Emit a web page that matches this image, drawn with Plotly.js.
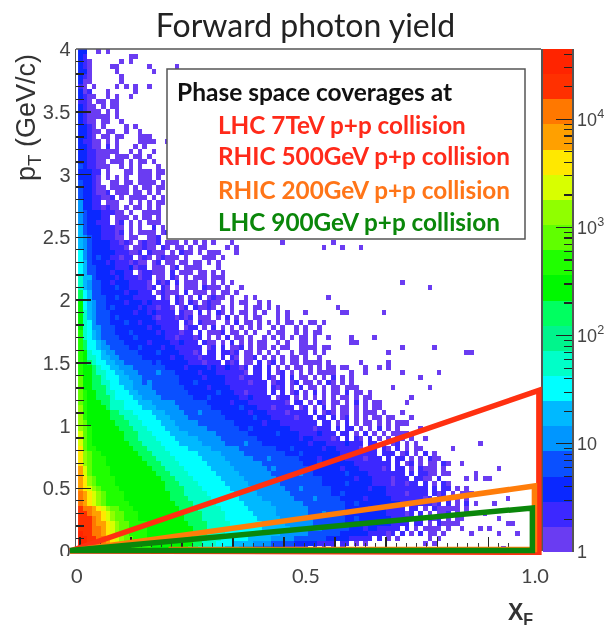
<!DOCTYPE html>
<html><head><meta charset="utf-8">
<script src="https://cdn.plot.ly/plotly-3.0.1.min.js"></script>
<style>html,body{margin:0;padding:0;background:#fff}#plot{width:605px;height:639px;filter:blur(0.45px)}</style>
</head><body><div id="plot"></div>
<script>
// One character per histogram bin: colour band of the bin ('.' = empty bin).
var bandCodes = "12345678_9abcdefghij";
// rows run from pT = 4 (top) to pT = 0 (bottom); columns from xF = 0 rightwards, grouped in fives
var binRows = [
"33..1.1","32.........11","321......1.1","321....11......1.....1","331.....1.......1",
"321......1","311......1","21.1....1.1.1..1","312...1.....1","3211..1.1..1",
"221.11.11","3211.1.11","32111.1.1","3211111.1","3211.11..1",
"3321.1....1.1","33211.11..1..1","3321.11.11...111","32211.1.1....1111..1","33211.2.1...1.1",
"332211111..1.1..1","3322111.111.11.1","332211.111.1.11.1","4322111..1.1.1...1","33322.1...11.111.11",
"33321.1.1.1..111.1","43321..11.11.1111.1","433211.1111.1.11.11","4332112.111.11.1.1","43322112.1.1111.1.1",
"53322.111..1.1.1.11","533221211.1.11.1.1","5433322211.1..1111","5433322.111.1.11.1","5433222.12.1.1.111",
"6433322211.1.1..2.1","6433322212.1.1111.12","6543322211.11..112",
"65433 33221 21.12 112.1 11.1. 1.1.1 ...1. ..... ....1",
"65433 33222 1.112 11.21 .11.1 .11.. ..1.1",
"75433 33322 2112. 2111. 1.211 .1.11 1...1",
"75434 33221 22.12 1.121 11.1. ..111 .1",
"76433 32322 21211 .12.1 1.11. 11.1. 1",
"76443 33322 23122 .111. 12.11 11... 1",
"76443 33233 22.12 2111. 2.111 .11.1 .1",
"86643 33323 22212 2.11. 21.1. 111.1 11",
"86544 33233 32222 1.212 .2.11 1.1.1 .1.1",
"86544 33343 32222 12.21 .1.11 1.211 1.1.. 1",
"97644 33333 23322 2.121 11.2. 111.1 .11.1",
"97644 43343 33222 22.21 .21.1 .2.12 11.1. .1.1",
"a7654 43333 23332 32222 .21.2 1.121 1..1. 11..1 .1",
"a7654 43433 33323 22122 1.12. 21121 .1.1. .1.11 .1.1",
"a8654 44333 33233 23222 2.211 .2.1. 21.1. 11.1. 1..1. 1",
"a8654 44343 33333 32122 21212 .111. 1.2.1 .1.11 ...1. 1",
"a8754 44333 43323 33222 22.21 .2111 ..1.2 .11.1 .1.1. 11.1",
"a8755 44433 33333 23322 22.12 2.1.2 .1.1. 1.1.1 ..1.1 ..1.1",
"b8765 44433 34333 33232 22122 .2.11 12.11 .1.1. .1.11 ..1.1 .1",
"b8765 44443 33433 33332 21222 12.1. 1.2.1 1.1.. 1.1.1 .1.11",
"b9776 54444 33333 23333 22322 2.211 .1.2. 1.1.1 1..1. 1..1",
"b9776 55444 43343 33323 32222 22.12 .2.11 2.1.1 1.1.1 1..1. 11.1",
"ba877 65544 44433 33433 33222 12.22 .2212 .11.1 .1.1. .1.11 .1.1",
"ba887 66554 44443 33333 23322 21222 .2.21 .112. 1.1.1 .11.1 ..1",
"ba987 76655 44444 43433 33332 22122 2.212 .11.2 .12.1 .11.1 ..1.1",
"baa98 77665 55444 44443 33323 33323 22322 12.22 .2.1. 1.11. 1.1.1",
"baa98 87766 55544 44544 43333 32333 22222 21.22 .2.12 .1.1. 1.11. 1",
"caa99 87776 65554 44444 44333 33233 33222 12222 .21.2 .2.11 .1.1. 2.1.1",
"caa99 88776 66554 54444 44333 43333 33222 22122 2.122 .12.1 1.1.2 1.1.1",
"caa99 98777 66555 54444 44433 33323 33322 22222 2.212 .1.2. 11.1. 11.11 1",
"cbaa9 98877 76655 55444 44443 33333 43332 21222 2.2.2 .12.1 .2.1. 11.2. 11.1",
"cbaa9 99877 77665 55544 44444 33343 33333 22322 22.12 2.1.1 .1.1. 1.11. 1.11",
"cbaaa 99888 77766 65555 54444 44433 33323 33222 22222 1.22. 1.21. 11.1. 2.1.1 1",
"dbaaa a9888 77776 66555 55444 44443 33333 43332 22122 22.12 .1.2. 1.11. 1.1.1 1",
"dbaaa aa998 88777 76665 55544 45444 43333 33233 32222 12222 .2.12 1.11. 1.111 .1",
"dbaaa aa999 88877 77666 55554 44444 44333 33343 33222 22122 2.22. 2.12. 1.1.1 1.1",
"dcaaa aaa99 98887 77766 65555 54444 44443 33333 23332 22222 22.22 .1.2. 1.11. 1.1.1 1",
"dcbaa aaaa9 99888 77776 66555 55544 44444 33433 33333 32222 21222 .2.22 .1.1. 2.1.1",
"ecbaa aaaaa 99988 87777 66665 55555 44444 44333 33343 33322 22322 2.22. 1.2.1 .1.11 .1",
"ecbaa aaaaa 99988 88777 76666 65555 54444 44443 33333 33323 32222 12.2. 21.2. 1.1.1 1.1",
"ecbaa aaaaa a9998 88877 77666 66555 55444 45444 33333 33333 23332 22232 22.22 .2.12 .1.1.",
"fcbba aaaaa aa999 88887 77776 66665 55555 44444 44433 34333 33323 32222 21.22 .21.2 .1.11",
"fdcbb aaaaa aaa99 98888 77777 76666 65555 54444 44444 33343 33333 33222 22222 .222. 12.1. 2.1",
"fdcbb baaaa aaaa9 99888 87777 77666 66555 55544 45444 44433 33233 33322 22122 2.2.2 2.1.1 .2.1.",
"fdcbb baaaa aaaaa 99988 88777 77766 66655 55555 44444 44443 33433 33333 22222 222.2 .12.1 .11.2",
"gecbb bbaaa aaaaa a9998 88877 77776 66665 55555 54544 44444 33333 33233 32222 212.2 2.1.2 .11.1",
"gecbb bbaaa aaaaa aa999 88887 77777 66666 55555 55444 44454 43333 33343 33322 22222 2.2.2 2.1.1",
"gfdcb bbbaa aaaaa aaa99 98888 77777 76666 65555 55544 44444 44433 33333 23332 22212 22.22 .1.2.",
"gfdcb bbbaa aaaaa aaaa9 99888 87777 77666 66555 55554 44444 44433 33343 33332 22212 2122. 2.1.2",
"gfedc bbbba aaaaa aaaa9 99988 88777 77766 66655 55555 44454 44444 33333 33323 33222 22222 2.2.2 2.1.1",
"hgfed cbbbb aaaaa aaaaa 99988 88877 77776 66665 55555 54444 44444 33433 33333 33222 21222 2.2.2 .1.11",
"hgfed cbbbb aaaaa aaaaa 99998 88887 77777 66666 55555 55444 45444 44333 33233 33322 22222 12.22 2.1.1",
"hgfed cbbbb baaaa aaaaa a9999 88888 77777 76666 66555 55554 44444 44433 43333 33333 22222 2212. 2.1.2",
"ihhgf edccb bbaaa aaaaa aa999 98888 87777 77666 66655 55555 44444 44433 33323 33222 2.22. 1.2.1 1.1.1",
"iihgg fedcc bbbaa aaaaa aaa99 99888 88777 77766 66655 55555 44454 44333 33333 33222 212.2 .1.1. 2.1.1",
"iiihg fedcc bbbaa aaaaa aaa99 99888 88777 77776 66665 55555 54444 44433 43333 33322 22212 .2.2. 1.11",
"iiihg gfedc cbbbb aaaaa aaaa9 99988 88877 77777 66666 55555 54444 44433 33333 33322 22.22 .1.2. 1.1",
"iiihh gfedc cbbbb aaaaa aaaaa 99988 88877 77777 66666 65555 55544 44443 33233 22222 .2.1. 1.1",
"jiihh gfedc cbbbb aaaaa aaaaa 99988 88777 77776 66665 55555 44444 44333 33322 2212. 2.1.2 .1",
"jjiih hgfed ccbbb aaaaa aaaaa 99988 87777 77666 66555 55444 44443 33332 2222. 2.1.1",
"jjiih hgfed ccbbb baaaa aaaaa 99888 77776 66655 55444 44333 33222 2.22. 1.1.",
"jjiih hgfed ccbbb baaaa aaaa9 98887 77666 55544 44333 22222 .2.1. 1.1"
];
// isolated single-count bins far from the main population: [row, column]
var strayBins = [[38,55],[39,53],[39,57],[39,61],[46,70],[47,76],[49,54],[51,56],[52,57],[52,58],[52,66],[52,49],
[54,50],[54,51],[54,53],[55,52],[56,52],[57,51],[58,51],[57,54],[57,59],[58,59],[58,60],[57,64],[58,49],[59,49],[59,54],[59,70],[59,77],
[60,67],[60,84],[60,85],[62,50],[62,51],[62,52],[62,61],[63,62],[63,65],[62,67],[63,67],[63,55],[63,57],[63,58],[64,59],[64,54],[64,62],[64,70],[64,78],[65,74],
[67,76],[67,68],[69,72],[70,71],[72,70],[73,68],[73,72],[74,71],[75,74],[76,70],[77,75],[78,87],[79,81],[80,77],[81,77],[82,83],[83,91],
[85,86],[84,86],[85,88],[85,89],[85,84],[88,85],[89,93],[90,90],[90,86],[92,88],[93,91],[94,93],[94,94],[96,95],[96,91],[96,85],[95,87],[95,89],[95,83],[99,92],
[81,76],[81,78],[82,80],[83,75],[83,79],[84,76],[84,80],[85,75],[85,78],[86,79],[86,80],[87,74],[87,77],[87,80],[88,75],[88,78],[88,79],
[89,76],[90,77],[90,80],[91,78],[91,81],[92,79],[92,82],[93,77],[93,78],[93,80],[94,79],[94,81],[95,76],[95,78],[95,80],[96,77],[96,79],[97,76],[97,78],[98,75],[98,77]];

var bandColors = ["#6a3cf2","#3c28ff","#0a28ff","#0a50ff","#0096ff","#00b9ff","#00ffff","#00ffc8","#00f58c","#00ff60",
"#00f800","#20ff00","#60ff00","#90ff00","#d8ff00","#ffe800","#ffa000","#ff7800","#ff3000","#ff2400"];

var yTickVals = [0,0.5,1,1.5,2,2.5,3,3.5,4];
var yTickText = ["0","0.5","1","1.5","2","2.5","3","3.5","4"];
var xTickVals = [0,0.5,1];
var xTickText = ["0","0.5","1.0"];
// the tick marks printed on the original frame do not line up with the relabelled xF scale
var frameTicksMajor = [0.0066,0.118,0.2294,0.3408,0.4522,0.5636,0.675,0.7864,0.8978];
var frameTicksMinor = [0.0289,0.0512,0.0735,0.0958,0.1403,0.1626,0.1849,0.2072,0.2517,0.274,0.2963,0.3186,0.3631,0.3854,0.4077,0.43,0.4745,0.4968,0.5191,0.5414,0.5859,0.6082,0.6305,0.6528,0.6973,0.7196,0.7419,0.7642,0.8087,0.831,0.8533,0.8756,0.9201,0.9424];

var coverages = [
 {name:"LHC 7TeV p+p collision",   color:"#ff3010", xs:[-0.015,1.0087,1.0087,-0.015], ys:[0,1.28,-0.01,0]},
 {name:"RHIC 200GeV p+p collision",color:"#ff7d0a", xs:[-0.015,0.999,0.999,0.2], ys:[0,0.518,0.012,0.012]},
 {name:"LHC 900GeV p+p collision", color:"#0a870a", xs:[-0.015,0.9945,0.9945,-0.015], ys:[0.004,0.343,0.004,0.004]}
];
var legendTitle = "Phase space coverages at";
var legendLines = [["LHC 7TeV p+p collision","#ff2a1a"],["RHIC 500GeV p+p collision","#ff2a1a"],["RHIC 200GeV p+p collision","#ff7518"],["LHC 900GeV p+p collision","#0a870a"]];

// build the grid (bottom row first for the heatmap)
var z = binRows.map(function(raw){
  var s = raw.replace(/ /g,""), r = [];
  for (var i=0;i<100;i++){ var c=s.charAt(i); r.push(c && c!=="." ? bandCodes.indexOf(c)+0.5 : null); }
  return r;
});
strayBins.forEach(function(p){ if (z[p[0]][p[1]]===null) z[p[0]][p[1]] = 0.5; });
z.reverse();

var colorscale = [];
bandColors.forEach(function(c,i){ colorscale.push([i/20,c]); colorscale.push([(i+1)/20,c]); });

var W=605,H=639;
function px(x){return x/W;} function py(y){return 1-y/H;}

var bandEdges=[], bandZ=[];
for (var k=0;k<=20;k++) bandEdges.push(Math.pow(10,4.65*k/20));
for (k=0;k<20;k++) bandZ.push([k+0.5]);
var minorLog=[];
[1,10,100,1000,10000].forEach(function(d){ for (var m=2;m<=9;m++){ if (d*m<44000) minorLog.push(d*m); } });

var traces = [
 {type:"heatmap",z:z,x0:0.0075,dx:0.01004,y0:0.02,dy:0.04,zmin:0,zmax:20,colorscale:colorscale,showscale:false,hoverinfo:"skip",xgap:0,ygap:0},
 {type:"heatmap",z:bandZ,x:[0,1],y:bandEdges,xaxis:"x2",yaxis:"y2",zmin:0,zmax:20,colorscale:colorscale,showscale:false,hoverinfo:"skip"},
 {type:"scatter",x:[],y:[],xaxis:"x3",yaxis:"y",mode:"lines",showlegend:false,hoverinfo:"skip"}
];
coverages.forEach(function(c){
  traces.push({type:"scatter",mode:"lines",x:c.xs,y:c.ys,xaxis:"x4",yaxis:"y4",name:c.name,showlegend:false,hoverinfo:"skip",line:{color:c.color,width:5.5}});
});

var annotations = [
 {xref:"paper",yref:"paper",x:px(175),y:py(92),xanchor:"left",yanchor:"middle",showarrow:false,text:"<b>"+legendTitle+"</b>",font:{family:"Lato",size:24.5,color:"#111"}},
 {xref:"paper",yref:"paper",x:px(28),y:py(118),xanchor:"center",yanchor:"middle",showarrow:false,textangle:-90,text:"p<sub>T</sub> (GeV/c)",font:{family:"Liberation Sans",size:27,color:"#333"}},
 {xref:"paper",yref:"paper",x:px(520),y:py(613),xanchor:"center",yanchor:"middle",showarrow:false,text:"<b>X<sub>F</sub></b>",font:{family:"Liberation Sans",size:23,color:"#333"}}
];
var legendY=[124,156,189,221];
legendLines.forEach(function(l,i){
 annotations.push({xref:"paper",yref:"paper",x:px(216),y:py(legendY[i]),xanchor:"left",yanchor:"middle",showarrow:false,text:"<b>"+l[0]+"</b>",font:{family:"Lato",size:24.3,color:l[1]}});
});

var layout = {
 width:W,height:H,margin:{l:0,r:0,t:0,b:0},paper_bgcolor:"#fff",plot_bgcolor:"rgba(0,0,0,0)",showlegend:false,
 title:{text:"Forward photon yield",x:0.505,xanchor:"center",y:py(26),yanchor:"middle",font:{family:"Lato",size:32,color:"#222"}},
 xaxis:{domain:[px(76),px(541)],range:[-0.002,1.0131],tickmode:"array",tickvals:xTickVals,ticktext:xTickText,ticks:"",ticklabelstandoff:11,
   tickfont:{family:"Lato",size:20,color:"#444"},showgrid:false,zeroline:false,showline:false,anchor:"y"},
 xaxis3:{overlaying:"x",anchor:"free",position:py(547),side:"bottom",range:[-0.002,1.0131],tickmode:"array",tickvals:frameTicksMajor,ticks:"inside",ticklen:10,tickwidth:1.3,tickcolor:"#222",
   showticklabels:false,showgrid:false,zeroline:false,showline:false,minor:{tickmode:"array",tickvals:frameTicksMinor,ticks:"inside",ticklen:4,tickwidth:1,tickcolor:"#333",showgrid:false}},
 xaxis4:{domain:[px(68),px(545)],range:[-0.01943,1.02205],visible:false,anchor:"y4"},
 yaxis4:{domain:[py(556),py(49)],range:[-0.0398,4],visible:false,anchor:"x4"},
 yaxis:{domain:[py(551),py(49)],range:[0,4],tickmode:"array",tickvals:yTickVals,ticktext:yTickText,ticks:"inside",ticklen:15,tickwidth:1.5,tickcolor:"#222",
   tickfont:{family:"Liberation Sans",size:20,color:"#444"},showgrid:false,zeroline:false,showline:true,mirror:true,linecolor:"#555",linewidth:1.5,anchor:"x",
   minor:{dtick:0.1,ticks:"inside",ticklen:8,tickwidth:1.3,tickcolor:"#222",showgrid:false}},
 xaxis2:{domain:[px(543),px(572)],range:[0,1],visible:false,anchor:"y2"},
 yaxis2:{domain:[py(552),py(49)],type:"log",range:[0,4.65],side:"right",anchor:"x2",showline:true,linecolor:"#555",linewidth:1.5,showgrid:false,zeroline:false,
   tickmode:"array",tickvals:[1,10,100,1000,10000],ticktext:["1","10","10<sup>2</sup>","10<sup>3</sup>","10<sup>4</sup>"],ticks:"inside",ticklen:16,tickwidth:1.3,tickcolor:"#222",
   tickfont:{family:"Liberation Sans",size:18,color:"#444"},
   minor:{tickmode:"array",tickvals:minorLog,ticks:"inside",ticklen:8,tickwidth:1.2,tickcolor:"#222",showgrid:false}},
 shapes:[
  {type:"rect",xref:"paper",yref:"paper",x0:px(167),x1:px(525),y0:py(69),y1:py(239),fillcolor:"#fff",line:{color:"#555",width:1.5},layer:"above"},
  {type:"line",xref:"paper",yref:"paper",x0:px(76),x1:px(541),y0:py(49),y1:py(49),line:{color:"#555",width:1.5},layer:"above"},
  {type:"rect",xref:"paper",yref:"paper",x0:px(52),x1:px(72),y0:py(556),y1:py(566),fillcolor:"#fff",line:{width:0},layer:"above"}
 ],
 annotations:annotations
};
Plotly.newPlot("plot",traces,layout,{staticPlot:true,displayModeBar:false});
</script></body></html>
